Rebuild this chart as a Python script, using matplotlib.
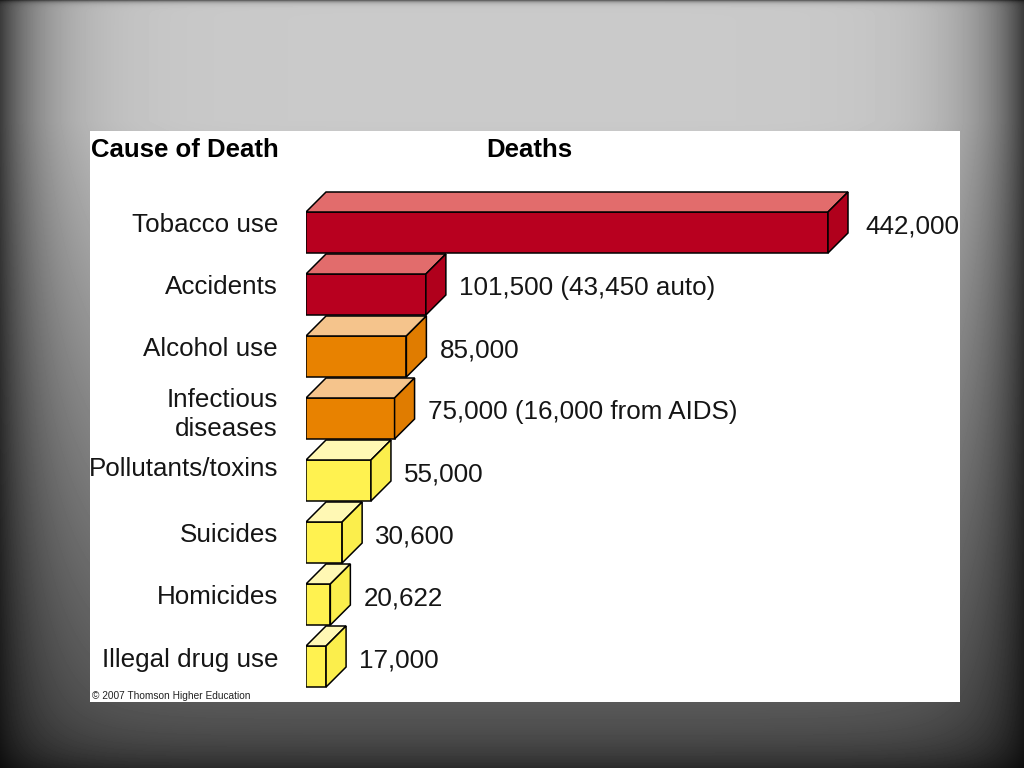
import numpy as np
import matplotlib
matplotlib.use("Agg")
import matplotlib.pyplot as plt
from matplotlib.patches import Polygon

plt.rcParams['font.family'] = ['Liberation Sans', 'DejaVu Sans']

# ---- data ----
causes = ["Tobacco use", "Accidents", "Alcohol use", "Infectious\ndiseases",
          "Pollutants/toxins", "Suicides", "Homicides", "Illegal drug use"]
deaths = [442000, 101500, 85000, 75000, 55000, 30600, 20622, 17000]
value_labels = ["442,000", "101,500 (43,450 auto)", "85,000",
                "75,000 (16,000 from AIDS)", "55,000", "30,600", "20,622", "17,000"]
header_cause = "Cause of Death"
header_deaths = "Deaths"
credit = "© 2007 Thomson Higher Education"

front_colors = ["#B8001F", "#B8001F", "#E88200", "#E88200",
                "#FFF250", "#FFF250", "#FFF250", "#FFF250"]
side_colors = ["#B0001C", "#B0001C", "#E07C00", "#E07C00",
               "#FBEE4C", "#FBEE4C", "#FBEE4C", "#FBEE4C"]
top_colors = ["#E26C6C", "#E26C6C", "#F5C48C", "#F5C48C",
              "#FFF8B4", "#FFF8B4", "#FFF8B4", "#FFF8B4"]

W, H = 1024, 768
fig = plt.figure(figsize=(W / 100, H / 100), dpi=100)

# ---- background gradient ----
bg = fig.add_axes([0, 0, 1, 1])
yy, xx = np.mgrid[0:H, 0:W]
v = np.where(yy < 120, 0.79, 0.79 - (yy - 120) / (H - 120) * 0.48)
dxe = np.minimum(xx, W - 1 - xx)
dye = H - 1 - yy
hx = 1 - 0.7 * np.exp(-dxe / 45.0)
hy = 1 - 0.45 * np.exp(-dye / 25.0)
ht = 1 - 0.5 * np.exp(-yy / 2.0)
img = np.clip(v * hx * hy * ht, 0, 1)
bg.imshow(img, cmap="gray", vmin=0, vmax=1, aspect="auto",
          extent=[0, W, H, 0], interpolation="bilinear")
bg.set_xlim(0, W)
bg.set_ylim(H, 0)
bg.axis("off")

# ---- white panel ----
px0, px1, py0, py1 = 90, 960, 131, 702
panel = fig.add_axes([px0 / W, 1 - py1 / H, (px1 - px0) / W, (py1 - py0) / H])
panel.set_facecolor("white")
panel.set_xticks([]); panel.set_yticks([])
for s in panel.spines.values():
    s.set_visible(False)

# ---- chart axes ----
ax0 = 306          # pixel of zero
ax = fig.add_axes([ax0 / W, 1 - py1 / H, (px1 - ax0) / W, (py1 - py0) / H])
ax.patch.set_alpha(0)
px_per_death = 522.0 / 442000.0
xmax = (px1 - ax0) / px_per_death
row_px = 62.0
yc0 = 232.5
ax.set_xlim(0, xmax)
ax.set_ylim((py1 - yc0) / row_px, (py0 - yc0) / row_px)
ax.axis("off")

h = 41.0 / row_px           # front face height
ddx = 20.0 / px_per_death   # depth in x (data)
ddy = 20.0 / row_px         # depth in y (data)

ypos = np.arange(len(deaths))
ax.barh(ypos, deaths, height=h, left=0, color=front_colors,
        edgecolor="black", linewidth=1.1, zorder=3)

FS = 18.7
for i, (val, tc, sc) in enumerate(zip(deaths, top_colors, side_colors)):
    yt = i - h / 2
    yb = i + h / 2
    top = Polygon([(0, yt), (val, yt), (val + ddx, yt - ddy), (ddx, yt - ddy)],
                  closed=True, facecolor=tc, edgecolor="black", linewidth=1.1,
                  zorder=3, joinstyle="miter")
    side = Polygon([(val, yb), (val, yt), (val + ddx, yt - ddy), (val + ddx, yb - ddy)],
                   closed=True, facecolor=sc, edgecolor="black", linewidth=1.1,
                   zorder=3, joinstyle="miter")
    ax.add_patch(top)
    ax.add_patch(side)

    ymid = i - ddy / 2
    gap = 17 if i == 0 else 13
    ax.annotate(value_labels[i], xy=(val + ddx, ymid), xytext=(gap, -4),
                textcoords="offset pixels", ha="left", va="center",
                fontsize=FS, color="#151515", annotation_clip=False)
    yoff = -6 if "\n" in causes[i] else (1 if i == 4 else -3)
    ax.annotate(causes[i], xy=(0, ymid), xytext=(-28, yoff),
                textcoords="offset pixels", ha="right", va="center",
                multialignment="right", linespacing=1.3,
                fontsize=FS, color="#151515", annotation_clip=False)

# ---- headers & credit ----
fig.text(91 / W, 1 - 150 / H, header_cause, fontsize=18.5, fontweight="bold",
         ha="left", va="center", color="black")
fig.text(486 / W, 1 - 150 / H, header_deaths, fontsize=18.5, fontweight="bold",
         ha="left", va="center", color="black")
fig.text(92 / W, 1 - 696 / H, credit, fontsize=7.3, ha="left", va="center",
         color="#222222")

fig.savefig("out.png", dpi=100)
